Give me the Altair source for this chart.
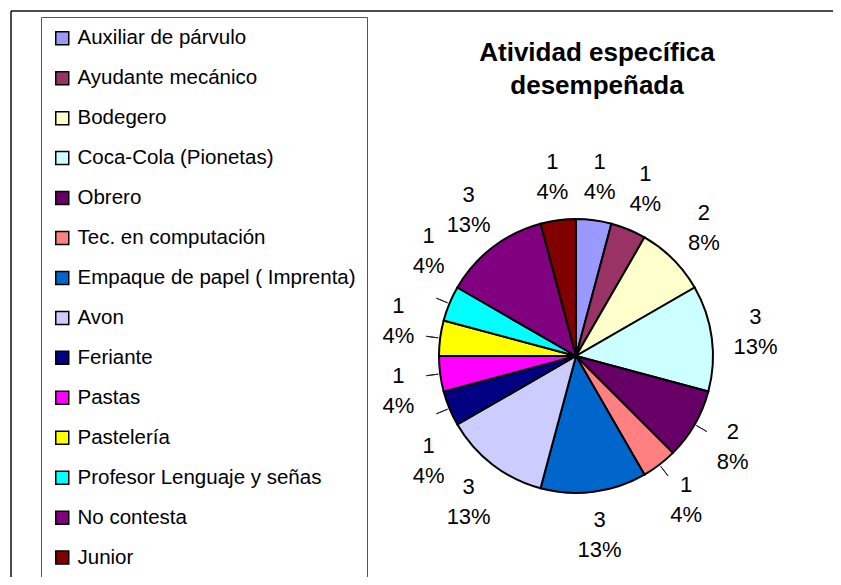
import altair as alt
import pandas as pd
import numpy as np

categories = [
    "Auxiliar de párvulo", "Ayudante mecánico", "Bodegero", "Coca-Cola (Pionetas)",
    "Obrero", "Tec. en computación", "Empaque de papel ( Imprenta)", "Avon",
    "Feriante", "Pastas", "Pastelería", "Profesor Lenguaje y señas",
    "No contesta", "Junior",
]
values = [1, 1, 2, 3, 2, 1, 3, 3, 1, 1, 1, 1, 3, 1]
colors = [
    "#9999FF", "#993366", "#FFFFCC", "#CCFFFF", "#660066", "#FF8080", "#0066CC",
    "#CCCCFF", "#000080", "#FF00FF", "#FFFF00", "#00FFFF", "#800080", "#800000",
]
leader_cats = ["Obrero", "Tec. en computación", "Feriante", "Pastas",
               "Pastelería", "Profesor Lenguaje y señas"]
title_lines = ["Atividad específica", "desempeñada"]

FONT = "Liberation Sans"
LABEL_SIZE = 22
LINE_H = 30
CX, CY, R, RL = 568, 348, 137, 181

total = sum(values)
n = len(values)
pcts = [int(v * 100 / total + 0.5) for v in values]
df = pd.DataFrame({"cat": categories, "val": values, "idx": list(range(n))})
df["label"] = [f"{v}\n{p}%" for v, p in zip(values, pcts)]
cum = np.cumsum(values)
mids = list(cum - np.array(values) / 2)  # in data units along the pie
df["mid"] = np.array(mids) / total * 2 * np.pi

# simple label de-overlap: spread neighbouring labels along the circle
widths = [LABEL_SIZE * (0.556 * len(str(p)) + 0.889) for p in pcts]
pos = list(mids)


def xy(u):
    a = u / total * 2 * np.pi
    return CX + RL * np.sin(a), CY - RL * np.cos(a)


for _ in range(3000):
    moved = False
    for i in range(n):
        j = (i + 1) % n
        xi, yi = xy(pos[i])
        xj, yj = xy(pos[j])
        if abs(xi - xj) < (widths[i] + widths[j]) / 2 + 2 and abs(yi - yj) < 2 * LINE_H + 10:
            pos[i] -= 0.005
            pos[j] += 0.005
            moved = True
    if not moved:
        break
df["lpos"] = pos
lead = df[df["cat"].isin(leader_cats)]

one = alt.Data(values=[{"a": 0}])
frame_top = alt.Chart(one).mark_rule(color="#111", strokeWidth=1.5).encode(
    x=alt.value(3), x2=alt.value(825), y=alt.value(3))
frame_left = alt.Chart(one).mark_rule(color="#111", strokeWidth=1.5).encode(
    x=alt.value(3), y=alt.value(3), y2=alt.value(569))

theta_scale = alt.Scale(domain=[0, total])

arcs = alt.Chart(df).mark_arc(outerRadius=R, stroke="black", strokeWidth=2).encode(
    theta=alt.Theta("val:Q", stack=True, scale=theta_scale),
    order=alt.Order("idx:Q"),
    color=alt.Color(
        "cat:N",
        scale=alt.Scale(domain=categories, range=colors),
        legend=alt.Legend(
            title=None, orient="none", legendX=33, legendY=9,
            labelFont=FONT, labelFontSize=20.5, labelColor="black",
            symbolType="square", symbolSize=169, symbolStrokeColor="black",
            symbolStrokeWidth=1.5, symbolOpacity=1, rowPadding=18.95,
            padding=11, labelOffset=5, labelLimit=500,
            strokeColor="#555", fillColor="white",
        ),
    ),
    x=alt.value(CX), y=alt.value(CY),
)

leaders = alt.Chart(lead).mark_arc(
    radius=151, radius2=139, stroke="#222", strokeWidth=1, fillOpacity=0
).encode(
    theta=alt.Theta("mid:Q", scale=None),
    theta2=alt.Theta2("mid"),
    x=alt.value(CX), y=alt.value(CY),
)

texts = alt.Chart(df).mark_text(
    radius=RL, font=FONT, fontSize=LABEL_SIZE, lineBreak="\n", lineHeight=LINE_H,
    color="black", dy=-LINE_H / 2,
).encode(
    theta=alt.Theta("lpos:Q", scale=theta_scale),
    text="label:N",
    x=alt.value(CX), y=alt.value(CY),
)

chart = alt.layer(frame_top, frame_left, arcs, texts, leaders).resolve_scale(
    theta="independent"
).properties(
    width=825, height=569, padding=0, autosize="none",
    title=alt.TitleParams(
        text=title_lines, font=FONT, fontSize=26, fontWeight="bold", color="black",
        anchor="start", frame="group", align="center", dx=589, dy=91,
        lineHeight=33, offset=0,
    ),
).configure_view(strokeWidth=0)

chart.save("out.html", embed_options={"renderer": "svg", "actions": False})
